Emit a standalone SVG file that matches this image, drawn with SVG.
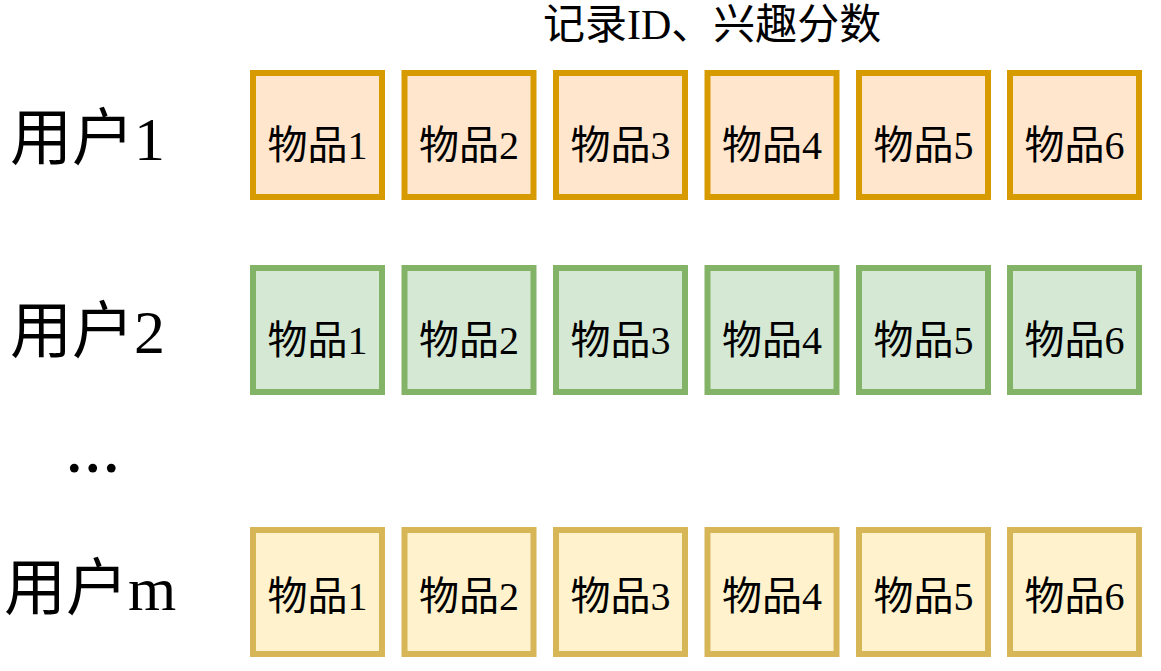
<svg xmlns="http://www.w3.org/2000/svg" width="1161" height="671" viewBox="0 0 1161 671">
<style>
  .t { font-family: "Liberation Serif", "Noto Sans CJK SC", serif; fill: #000; }
  .box { stroke-width: 6; }
  .r1 { fill: #ffe6cc; stroke: #d79b00; }
  .r2 { fill: #d5e8d4; stroke: #82b366; }
  .r3 { fill: #fff2cc; stroke: #d6b656; }
  .lbl { font-size: 40px; text-anchor: middle; }
  .user { font-size: 62px; }
</style>
<rect width="1161" height="671" fill="#ffffff"/>
<g id="title"><text class="t" x="543" y="39" font-size="42">记录ID、兴趣分数</text></g>
<g id="user1"><text class="t user" x="10" y="160">用户1</text></g>
<g id="user2"><text class="t user" x="10" y="353">用户2</text></g>
<g id="dots"><text class="t" x="65" y="472" font-size="74">...</text></g>
<g id="userm"><text class="t user" x="4" y="610">用户m</text></g>

<g id="row1">
  <g id="r1i1"><rect class="box r1" x="253" y="73" width="129" height="124"/><text class="t lbl" x="317.5" y="159">物品1</text></g>
  <g id="r1i2"><rect class="box r1" x="404.5" y="73" width="129" height="124"/><text class="t lbl" x="469" y="159">物品2</text></g>
  <g id="r1i3"><rect class="box r1" x="556" y="73" width="129" height="124"/><text class="t lbl" x="620.5" y="159">物品3</text></g>
  <g id="r1i4"><rect class="box r1" x="707.5" y="73" width="129" height="124"/><text class="t lbl" x="772" y="159">物品4</text></g>
  <g id="r1i5"><rect class="box r1" x="859" y="73" width="129" height="124"/><text class="t lbl" x="923.5" y="159">物品5</text></g>
  <g id="r1i6"><rect class="box r1" x="1010" y="73" width="129" height="124"/><text class="t lbl" x="1074.5" y="159">物品6</text></g>
</g>
<g id="row2">
  <g id="r2i1"><rect class="box r2" x="253" y="268" width="129" height="124"/><text class="t lbl" x="317.5" y="354">物品1</text></g>
  <g id="r2i2"><rect class="box r2" x="404.5" y="268" width="129" height="124"/><text class="t lbl" x="469" y="354">物品2</text></g>
  <g id="r2i3"><rect class="box r2" x="556" y="268" width="129" height="124"/><text class="t lbl" x="620.5" y="354">物品3</text></g>
  <g id="r2i4"><rect class="box r2" x="707.5" y="268" width="129" height="124"/><text class="t lbl" x="772" y="354">物品4</text></g>
  <g id="r2i5"><rect class="box r2" x="859" y="268" width="129" height="124"/><text class="t lbl" x="923.5" y="354">物品5</text></g>
  <g id="r2i6"><rect class="box r2" x="1010" y="268" width="129" height="124"/><text class="t lbl" x="1074.5" y="354">物品6</text></g>
</g>
<g id="row3">
  <g id="r3i1"><rect class="box r3" x="253" y="530" width="129" height="124"/><text class="t lbl" x="317.5" y="610">物品1</text></g>
  <g id="r3i2"><rect class="box r3" x="404.5" y="530" width="129" height="124"/><text class="t lbl" x="469" y="610">物品2</text></g>
  <g id="r3i3"><rect class="box r3" x="556" y="530" width="129" height="124"/><text class="t lbl" x="620.5" y="610">物品3</text></g>
  <g id="r3i4"><rect class="box r3" x="707.5" y="530" width="129" height="124"/><text class="t lbl" x="772" y="610">物品4</text></g>
  <g id="r3i5"><rect class="box r3" x="859" y="530" width="129" height="124"/><text class="t lbl" x="923.5" y="610">物品5</text></g>
  <g id="r3i6"><rect class="box r3" x="1010" y="530" width="129" height="124"/><text class="t lbl" x="1074.5" y="610">物品6</text></g>
</g>
<g id="connectors"></g>
</svg>
